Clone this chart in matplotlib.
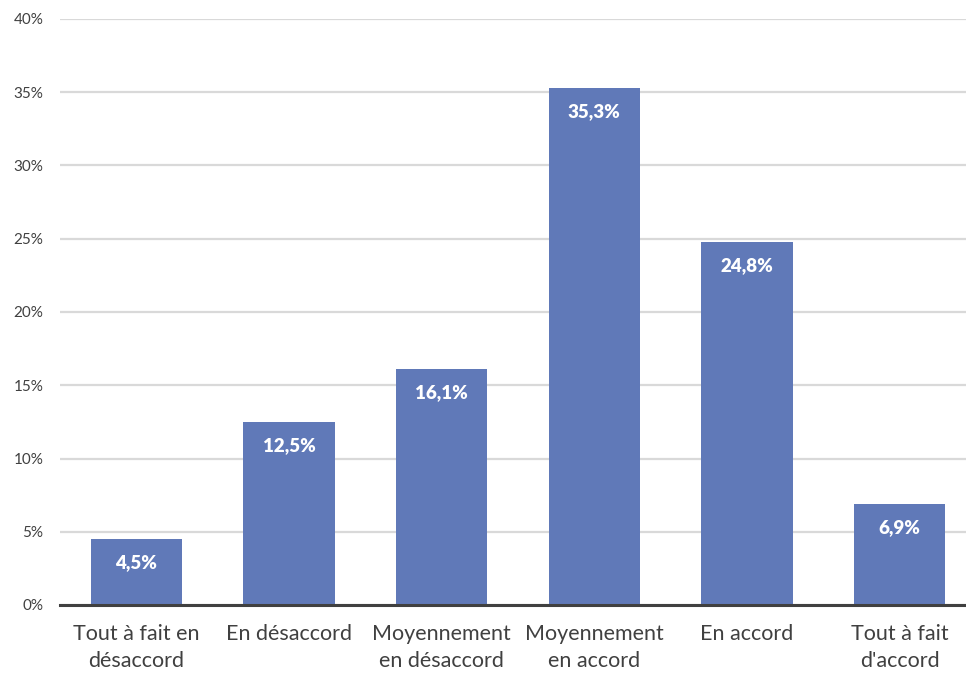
import matplotlib.pyplot as plt
from matplotlib.ticker import FuncFormatter

categories = ["Tout à fait en\ndésaccord", "En désaccord", "Moyennement\nen désaccord",
              "Moyennement\nen accord", "En accord", "Tout à fait\nd'accord"]
values = [4.5, 12.5, 16.1, 35.3, 24.8, 6.9]
yticks = [0, 5, 10, 15, 20, 25, 30, 35, 40]

bar_color = "#6079b8"
text_color = "#404040"

plt.rcParams['font.family'] = ['Lato', 'DejaVu Sans']

fig = plt.figure(figsize=(9.66, 6.79), dpi=100)
# axes run a bit past the right edge so the last slot is cut like a spreadsheet chart
ax = fig.add_axes([60 / 966, 74 / 679, (976 - 60) / 966, 586 / 679])

x = list(range(len(categories)))
bars = ax.bar(x, values, width=0.6, color=bar_color, zorder=3)

for rect, v in zip(bars, values):
    ax.annotate(f"{v:.1f}%".replace(".", ","),
                (rect.get_x() + rect.get_width() / 2, v),
                xytext=(0, -17), textcoords="offset points",
                ha="center", va="center", color="white",
                fontsize=13.5, fontweight="heavy", zorder=4)

ax.set_xlim(-0.5, len(categories) - 0.5)
ax.set_ylim(0, 40)
ax.set_yticks(yticks)
ax.yaxis.set_major_formatter(FuncFormatter(lambda v, _: f"{v:.0f}%"))
ax.set_xticks(x)
ax.set_xticklabels(categories, fontsize=15.5, color=text_color, linespacing=1.4)

ax.grid(axis="y", color="#d9d9d9", linewidth=1.6, zorder=0)
ax.tick_params(axis="y", length=0, pad=12, labelsize=11, labelcolor=text_color)
ax.tick_params(axis="x", length=0, pad=14)

for side in ["top", "right", "left"]:
    ax.spines[side].set_visible(False)
ax.spines["bottom"].set_color("#404040")
ax.spines["bottom"].set_linewidth(2.2)
ax.spines["bottom"].set_zorder(5)

fig.savefig("out.png", dpi=100)
